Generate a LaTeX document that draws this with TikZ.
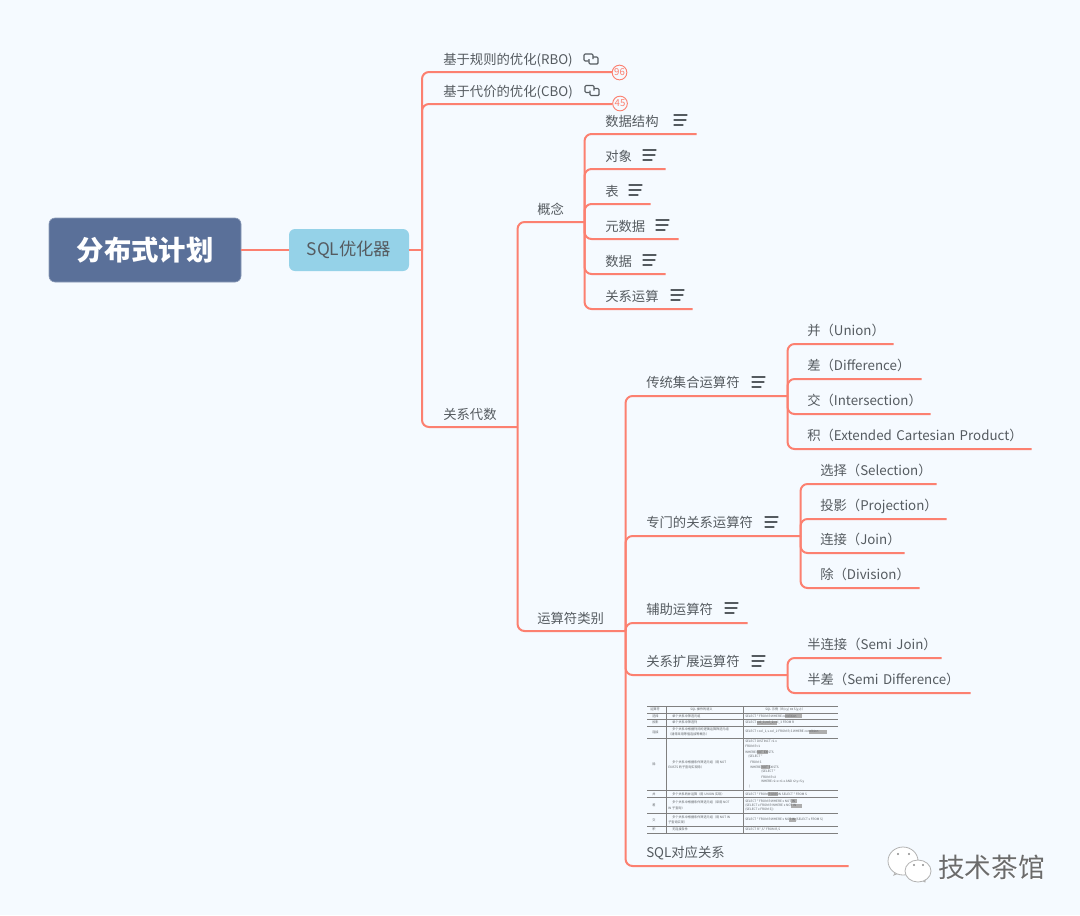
\documentclass[tikz,border=0pt]{standalone}
\usepackage{fontspec}
\setmainfont{Noto Sans CJK SC}
\newfontfamily\symfont{DejaVu Sans}
\definecolor{bgc}{HTML}{F5FAFF}
\definecolor{coral}{HTML}{FC8070}
\definecolor{rootc}{HTML}{5A7099}
\definecolor{subc}{HTML}{95D2E8}
\definecolor{inkc}{HTML}{555B60}
\definecolor{cellc}{HTML}{5C6064}
\newcounter{cellno}
\tikzset{
  x=0.75pt,y=-0.75pt,
  branch/.style={draw=coral,line width=1.5pt,rounded corners=5.25pt},
  topic/.style={anchor=south west,inner sep=0pt,text depth=5.6pt,align=left,text width=#1*0.75pt,text=inkc,font=\fontsize{10}{12}\selectfont},
  leaf/.style={topic=#1,text depth=6.2pt},
  rootbox/.style={fill=rootc,draw=rootc!70!white,line width=.5pt,rounded corners=4.5pt,text=white,font=\fontsize{20.5}{24}\selectfont\bfseries,minimum width=144pt,minimum height=48pt,inner sep=0pt},
  subbox/.style={fill=subc,rounded corners=4.5pt,text=inkc,font=\fontsize{13}{15}\selectfont,minimum width=90pt,minimum height=31.5pt,inner sep=0pt},
  badge/.style={circle,draw=coral,fill=bgc,line width=.7pt,minimum size=11pt,inner sep=0pt,text=coral,font=\fontsize{7.2}{8}\selectfont},
  iconline/.style={draw=inkc,line width=.8pt,line cap=round},
  linkline/.style={draw=inkc,line width=.85pt,rounded corners=.8pt},
  gridl/.style={draw=black!50,line width=.45pt},
  cell/.style={anchor=west,inner sep=0pt,text=cellc,font=\fontsize{2.35}{3.2}\selectfont},
  mark box/.style={fill=black!32,draw=none},
  bubble/.style={fill=white,draw=black!30,line width=.6pt},
}
\newcommand{\noteicon}[2]{%
  \draw[iconline] (#1,#2-5) -- ++(13,0);
  \draw[iconline] (#1,#2) -- ++(12,0);
  \draw[iconline] (#1,#2+5) -- ++(9,0);}
\newcommand{\linkicon}[2]{%
  \draw[linkline] (#1+4.5,#2+2) -- (#1,#2+2) -- (#1,#2-5) -- (#1+9,#2-5) -- (#1+9,#2);
  \draw[linkline] (#1+9,#2-2) -- (#1+14,#2-2) -- (#1+14,#2+5) -- (#1+5,#2+5) -- (#1+5,#2);}
\newcommand{\tc}[3]{\stepcounter{cellno}\node[cell] (tc\arabic{cellno}) at (#1,#2) {#3};}
\newcommand{\mk}[3]{\fill[mark box] (#1,#2-1.7) rectangle (#3,#2+1.7);}
\begin{document}
\begin{tikzpicture}
\fill[bgc] (0,0) rectangle (1080,915);
\useasboundingbox (0,0) rectangle (1080,915);

% central topics
\node[rootbox] (root) at (145,250) {分布式计划};
\node[subbox] (sql) at (349,250) {SQL优化器};
\coordinate (hubA) at (422,250);

% level 2
\node[topic=169] (rbo) at (443,72) {基于规则的优化(RBO)};
\node[topic=169] (cbo) at (443,104) {基于代价的优化(CBO)};
\node[topic=74] (alg) at (443,427) {关系代数};
% level 3
\node[topic=47] (concept) at (537,222) {概念};
\node[topic=88] (optype) at (537,631) {运算符类别};
% concepts
\node[topic=91] (c1) at (605,134) {数据结构};
\node[topic=60] (c2) at (605,169) {对象};
\node[topic=45] (c3) at (605,204) {表};
\node[topic=73] (c4) at (605,239) {元数据};
\node[topic=60] (c5) at (605,274) {数据};
\node[topic=87] (c6) at (605,309) {关系运算};
% operator kinds
\node[leaf=141] (o1) at (646,396) {传统集合运算符};
\node[leaf=154] (o2) at (646,536) {专门的关系运算符};
\node[leaf=101] (o3) at (646,623) {辅助运算符};
\node[leaf=141] (o4) at (646,675) {关系扩展运算符};
\node[leaf=202] (o5) at (646,866) {SQL对应关系};
% leaves
\node[leaf=86] (s1) at (807,344) {并（Union）};
\node[leaf=114] (s2) at (807,379) {差（Difference）};
\node[leaf=123] (s3) at (807,414) {交（Intersection）};
\node[leaf=224] (s4) at (807,449) {积（Extended Cartesian Product）};
\node[leaf=116] (p1) at (820,484) {选择（Selection）};
\node[leaf=126] (p2) at (820,519) {投影（Projection）};
\node[leaf=84] (p3) at (820,553) {连接（Join）};
\node[leaf=99] (p4) at (820,588) {除（Division）};
\node[leaf=134] (e1) at (807,658) {半连接（Semi Join）};
\node[leaf=163] (e2) at (807,693) {半差（Semi Difference）};

% connectors
\draw[branch] (root.east) -- (sql.west);
\draw[branch] (sql.east) -- (hubA);
\foreach \k in {rbo,cbo,alg} \draw[branch] (hubA) |- (\k.south east);
\foreach \k in {concept,optype} \draw[branch] (alg.south east) |- (\k.south east);
\foreach \k in {c1,c2,c3,c4,c5,c6} \draw[branch] (concept.south east) |- (\k.south east);
\foreach \k in {o1,o2,o3,o4,o5} \draw[branch] (optype.south east) |- (\k.south east);
\foreach \k in {s1,s2,s3,s4} \draw[branch] (o1.south east) |- (\k.south east);
\foreach \k in {p1,p2,p3,p4} \draw[branch] (o2.south east) |- (\k.south east);
\foreach \k in {e1,e2} \draw[branch] (o4.south east) |- (\k.south east);

% badges
\node[badge] (b96) at (619.5,72.5) {96};
\node[badge] (b45) at (620,103.5) {45};

% icons
\linkicon{584}{59}
\linkicon{585}{90.5}
\noteicon{674}{120}
\noteicon{643}{155}
\noteicon{629}{190}
\noteicon{656}{225}
\noteicon{643}{260}
\noteicon{671}{295}
\noteicon{752}{382}
\noteicon{765}{522}
\noteicon{725}{608}
\noteicon{752}{661}

% embedded table
\foreach \yy in {706,713,719,726,738,790,797,813,826,833}
  \draw[gridl] (647,\yy) -- (838,\yy);
\foreach \xx in {666,743} \draw[gridl] (\xx,706) -- (\xx,833);
\mk{785}{716}{802}
\mk{757}{723}{777}
\mk{809}{732}{827}
\mk{757}{752}{768}
\mk{761}{767}{770}
\mk{768}{794}{778}
\mk{791}{801}{797}
\mk{791}{806}{802}
\mk{789}{820}{796}
\tc{650}{709.5}{运算符}
\tc{690}{709.5}{SQL 操作的语义}
\tc{765}{709.5}{SQL 示例（R(x,y) {\symfont ⋈} S(y,z)）}
\tc{652}{716}{选择}
\tc{672}{716}{单个关系中筛选元组}
\tc{745}{716}{SELECT * FROM R WHERE condition}
\tc{652}{722.5}{投影}
\tc{672}{722.5}{单个关系中筛选列}
\tc{745}{723}{SELECT col\_1,col\_2,col\_3 FROM R}
\tc{652}{732}{连接}
\tc{672}{729.5}{多个关系中根据列间的逻辑运算筛选元组}
\tc{668}{734}{（通常采用等值连接等概念）}
\tc{745}{732}{SELECT r.col\_1,s.col\_2 FROM R,S WHERE condition}
\tc{652}{764}{除}
\tc{672}{762}{多个关系中根据条件筛选元组（用 NOT}
\tc{668}{767}{EXISTS 的子查询实现除）}
\tc{745}{741}{SELECT DISTINCT r1.x}
\tc{745}{746}{FROM R r1}
\tc{745}{752}{WHERE NOT EXISTS}
\tc{748}{757}{(SELECT *}
\tc{750}{762}{FROM S}
\tc{750}{767}{WHERE NOT EXISTS}
\tc{761}{772}{(SELECT *}
\tc{761}{777}{FROM R r2}
\tc{761}{782}{WHERE r2.x=r1.x AND r2.y=S.y}
\tc{749}{787}{)}
\tc{652}{794}{并}
\tc{672}{794}{多个关系的并运算（用 UNION 实现）}
\tc{745}{794}{SELECT * FROM R UNION SELECT * FROM S}
\tc{652}{805}{差}
\tc{672}{802}{多个关系中根据条件筛选元组（采用 NOT}
\tc{668}{808}{IN 子查询）}
\tc{745}{801}{SELECT * FROM R WHERE x NOT IN}
\tc{745}{806}{(SELECT x FROM R WHERE x NOT IN}
\tc{745}{810}{(SELECT x FROM S))}
\tc{652}{820}{交}
\tc{672}{817}{多个关系中根据条件筛选元组（用 NOT IN}
\tc{668}{822}{子查询实现）}
\tc{745}{820}{SELECT * FROM R WHERE x NOT IN (SELECT x FROM S)}
\tc{652}{829.5}{积}
\tc{672}{829.5}{无连接条件}
\tc{745}{829.5}{SELECT R.*,S.* FROM R,S}

% watermark
\draw[bubble] (894,875) -- (897,869) -- (899,873) -- cycle;
\fill[bubble] (903,861) ellipse (15 and 14);
\draw[bubble] (925,882) -- (918,878) -- (926,875) -- cycle;
\fill[bubble] (918,871) ellipse (13 and 11);
\fill[black!45] (898,854) circle (1.2) (909,854) circle (1.2) (914,865) circle (1.2) (923,865) circle (1.2);
\node[inner sep=0pt,text=white,font=\fontsize{20}{22}\selectfont] (markb) at (992.3,868) {技术茶馆};
\node[inner sep=0pt,text=black!58,font=\fontsize{20}{22}\selectfont] (mark) at (991.6,867.3) {技术茶馆};
\end{tikzpicture}
\end{document}
